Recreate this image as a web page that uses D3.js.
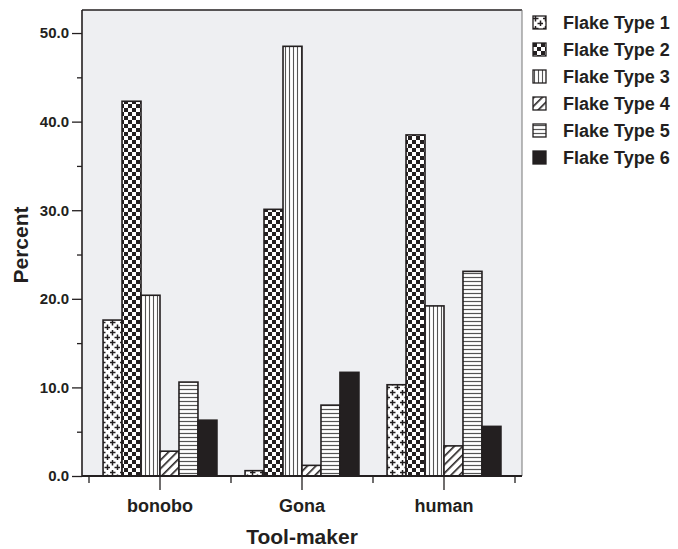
<!DOCTYPE html>
<html>
<head>
<meta charset="utf-8">
<script src="https://cdn.jsdelivr.net/npm/d3@7"></script>
<style>
  body { margin: 0; background: #fff; }
  svg { display: block; font-family: "Liberation Sans", Arial, sans-serif; }
</style>
</head>
<body>
<svg id="chart" width="678" height="549"></svg>
<script>
// Flake type percentages by tool-maker
const categories = ["bonobo", "Gona", "human"];
const flakeTypes = ["Flake Type 1", "Flake Type 2", "Flake Type 3", "Flake Type 4", "Flake Type 5", "Flake Type 6"];
const bonobo = [17.6, 42.3, 20.4, 2.8, 10.6, 6.3];
const gona   = [0.6, 30.1, 48.5, 1.2, 8.0, 11.7];
const human  = [10.3, 38.5, 19.2, 3.4, 23.1, 5.6];
const majorTicks = [0, 10, 20, 30, 40, 50];
const minorTicks = [5, 15, 25, 35, 45];

const seriesByCategory = { bonobo: bonobo, Gona: gona, human: human };
const rows = categories.flatMap(c => flakeTypes.map((t, i) => ({ cat: c, type: t, idx: i, value: seriesByCategory[c][i] })));

const svg = d3.select("#chart");
const ink = "#231f20";
const font = "Liberation Sans, Arial, sans-serif";

const plot = { left: 82, right: 522, top: 10, bottom: 476 };

const x = d3.scaleBand().domain(categories).range([89, 515]).padding(0);
const xi = d3.scaleBand().domain(flakeTypes).range([0, x.bandwidth()]).paddingInner(0).paddingOuter(0.74);
const y = d3.scaleLinear().domain([0, 52.6]).range([plot.bottom, plot.top]);

// ---- fill patterns ----
const defs = svg.append("defs");
function pat(id, w, h) {
  return defs.append("pattern").attr("id", id).attr("patternUnits", "userSpaceOnUse")
    .attr("width", w).attr("height", h);
}
// plus signs
const p1 = pat("pPlus", 10, 10);
p1.append("rect").attr("width", 10).attr("height", 10).attr("fill", "#fff");
[[2.5, 2.5], [7.5, 7.5]].forEach(([cx, cy]) => {
  p1.append("path").attr("d", `M${cx - 3},${cy}H${cx + 3}M${cx},${cy - 3}V${cy + 3}`)
    .attr("stroke", ink).attr("stroke-width", 1.5);
});
// checkerboard
const p2 = pat("pCheck", 8, 8);
p2.append("rect").attr("width", 8).attr("height", 8).attr("fill", "#fff");
p2.append("rect").attr("width", 4).attr("height", 4).attr("fill", ink);
p2.append("rect").attr("x", 4).attr("y", 4).attr("width", 4).attr("height", 4).attr("fill", ink);
// vertical lines
const p3 = pat("pVert", 4, 4);
p3.append("rect").attr("width", 4).attr("height", 4).attr("fill", "#fff");
p3.append("line").attr("x1", 1.5).attr("x2", 1.5).attr("y1", 0).attr("y2", 4).attr("stroke", "#555").attr("stroke-width", 1.1);
// diagonal hatching
const p4 = pat("pDiag", 6, 6).attr("patternTransform", "rotate(45)");
p4.append("rect").attr("width", 6).attr("height", 6).attr("fill", "#fff");
p4.append("line").attr("x1", 0).attr("x2", 0).attr("y1", 0).attr("y2", 6).attr("stroke", ink).attr("stroke-width", 3.2);
// horizontal lines
const p5 = pat("pHoriz", 4, 4);
p5.append("rect").attr("width", 4).attr("height", 4).attr("fill", "#fff");
p5.append("line").attr("x1", 0).attr("x2", 4).attr("y1", 1.5).attr("y2", 1.5).attr("stroke", "#555").attr("stroke-width", 1.2);

const fills = ["url(#pPlus)", "url(#pCheck)", "url(#pVert)", "url(#pDiag)", "url(#pHoriz)", ink];
const color = d3.scaleOrdinal().domain(flakeTypes).range(fills);

// ---- plot background and frame ----
svg.append("rect").attr("x", plot.left).attr("y", plot.top)
  .attr("width", plot.right - plot.left).attr("height", plot.bottom - plot.top)
  .attr("fill", "#eeeff2");
svg.append("line").attr("x1", plot.left).attr("x2", plot.right).attr("y1", plot.top).attr("y2", plot.top)
  .attr("stroke", ink).attr("stroke-width", 1.5);
svg.append("line").attr("x1", plot.right).attr("x2", plot.right).attr("y1", plot.top).attr("y2", plot.bottom)
  .attr("stroke", "#777").attr("stroke-width", 1);

// ---- bars ----
svg.append("g").selectAll("rect").data(rows).join("rect")
  .attr("x", d => x(d.cat) + xi(d.type))
  .attr("y", d => y(d.value))
  .attr("width", xi.bandwidth())
  .attr("height", d => y(0) - y(d.value))
  .attr("fill", d => color(d.type))
  .attr("stroke", ink).attr("stroke-width", 1.6);

// ---- y axis ----
const yAxis = svg.append("g").attr("transform", `translate(${plot.left},0)`)
  .call(d3.axisLeft(y).tickValues(majorTicks).tickFormat(d3.format(".1f")).tickSize(10).tickPadding(3))
  .call(g => g.select(".domain").attr("d", `M0,${plot.bottom}V${plot.top}`).attr("stroke", ink).attr("stroke-width", 1.6));
yAxis.selectAll(".tick line").attr("stroke", ink).attr("stroke-width", 1.3);
yAxis.selectAll(".tick text").attr("font-size", 15).attr("font-weight", "bold").attr("fill", ink)
  .attr("font-family", font);
svg.append("g").attr("transform", `translate(${plot.left},0)`)
  .call(d3.axisLeft(y).tickValues(minorTicks).tickFormat("").tickSize(5))
  .call(g => g.select(".domain").remove())
  .selectAll(".tick line").attr("stroke", ink).attr("stroke-width", 1.3);

// ---- x axis ----
const xAxis = svg.append("g").attr("transform", `translate(0,${plot.bottom})`)
  .call(d3.axisBottom(x).tickSize(14).tickPadding(9))
  .call(g => g.select(".domain").attr("d", `M${plot.left},0H${plot.right}`).attr("stroke", ink).attr("stroke-width", 1.8));
xAxis.selectAll(".tick line").attr("stroke", ink).attr("stroke-width", 1.3);
xAxis.selectAll(".tick text").attr("font-size", 18).attr("font-weight", "bold").attr("fill", ink)
  .attr("font-family", font);
// short ticks at the category boundaries
const boundaries = categories.map(c => x(c)).concat([x(categories[categories.length - 1]) + x.bandwidth()]);
svg.append("g").selectAll("line").data(boundaries).join("line")
  .attr("x1", d => d).attr("x2", d => d)
  .attr("y1", plot.bottom).attr("y2", plot.bottom + 7)
  .attr("stroke", ink).attr("stroke-width", 1.3);

// ---- axis titles ----
svg.append("text").attr("x", 302).attr("y", 544).attr("text-anchor", "middle")
  .attr("font-size", 21).attr("font-weight", "bold").attr("fill", ink).text("Tool-maker");
svg.append("text").attr("transform", `translate(28,245) rotate(-90)`).attr("text-anchor", "middle")
  .attr("font-size", 21).attr("font-weight", "bold").attr("fill", ink).text("Percent");

// ---- legend ----
const legend = svg.append("g").attr("transform", "translate(533,16)");
const item = legend.selectAll("g").data(flakeTypes).join("g")
  .attr("transform", (d, i) => `translate(0,${i * 27})`);
item.append("rect").attr("width", 13).attr("height", 13)
  .attr("fill", d => color(d)).attr("stroke", ink).attr("stroke-width", 1.3);
item.append("text").attr("x", 30).attr("y", 13)
  .attr("font-size", 18).attr("font-weight", "bold").attr("fill", ink).text(d => d);
</script>
</body>
</html>
